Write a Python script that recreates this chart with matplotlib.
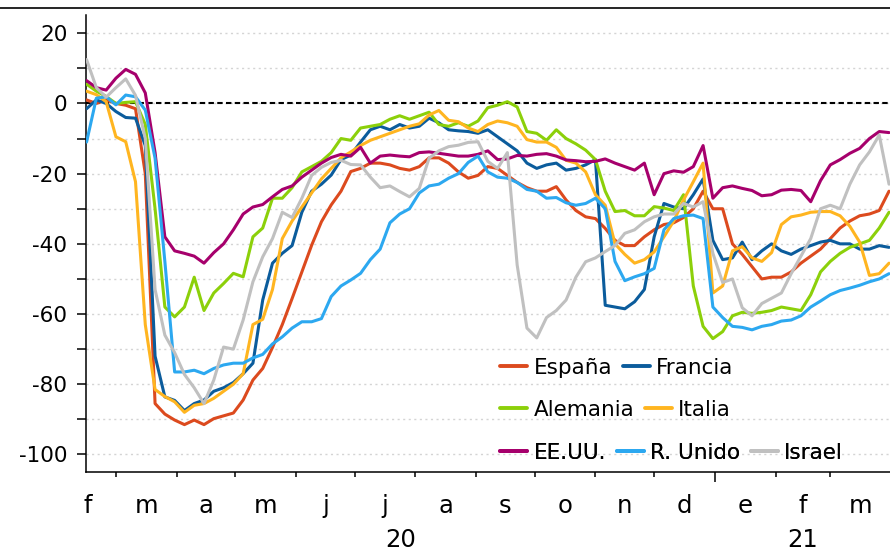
# -*- coding: utf-8 -*-
# Movilidad (comercio y ocio) vs. referencia pre-covid, media movil 7 dias
import matplotlib
matplotlib.use('Agg')
import matplotlib.pyplot as plt
import matplotlib.dates as mdates
import matplotlib.transforms as mtransforms
from matplotlib.lines import Line2D
from matplotlib.ticker import NullFormatter
import numpy as np
import pandas as pd


#DATA----------------------------------------------------------------------------------------
# one value every 5 days, 15-feb-2020 .. 31-mar-2021
dates = pd.date_range('2020-02-15', '2021-03-31', freq='5D')

espana = [1, 0, 1, 0, -0.5, -1.5, -20, -85.5, -88.5, -90.2,
          -91.5, -90.2, -91.5, -89.8, -89, -88.2, -84.5, -78.8, -75.5, -69.5,
          -63, -55.6, -48, -40.4, -33.7, -28.9, -25, -19.4, -18.5, -17,
          -17, -17.5, -18.5, -19, -18, -15.5, -15.5, -17, -19.5, -21.3,
          -20.5, -18, -18.5, -20.5, -22.5, -24, -25, -25, -23.7, -27.5,
          -30.5, -32.3, -32.8, -35.6, -39, -40.5, -40.5, -38, -36, -34.5,
          -34, -32.5, -30, -25, -30, -30, -40, -43, -46.5, -50,
          -49.5, -49.5, -48, -45.5, -43.5, -41.5, -38.5, -35.5, -33.5, -32,
          -31.5, -30.5, -25]

francia = [-1.5, 1, 0, -2.3, -4, -4.2, -12, -72, -83.6, -84.6,
           -87.5, -85.5, -84.5, -82, -81, -79.5, -77, -74, -56, -45.5,
           -42.7, -40.5, -31, -25, -23, -20.4, -16, -14.7, -11, -7.5,
           -6.5, -7.5, -6, -7, -6.5, -4.2, -5.5, -7.5, -7.8, -8,
           -8.5, -7.5, -9.5, -11.5, -13.5, -17, -18.5, -17.5, -17, -19,
           -18.5, -17.5, -16, -57.5, -58, -58.5, -56.5, -53, -38, -28.5,
           -29.5, -30, -26, -21.5, -39, -44.5, -44, -39.5, -44.5, -42,
           -40, -42, -43, -41.5, -40.5, -39.5, -39, -40, -40, -41.5,
           -41.5, -40.5, -41]

alemania = [5.5, 3.5, 2, 0, 0.3, 0.5, -6, -30, -58, -60.8,
            -58, -49.5, -59, -54, -51.3, -48.4, -49.4, -38, -35.5, -27,
            -27, -24, -19.5, -18, -16.5, -14, -10, -10.5, -7, -6.5,
            -6, -4.5, -3.5, -4.5, -3.5, -2.5, -6, -6.5, -5.5, -6.5,
            -5, -1.2, -0.5, 0.5, -1, -8, -8.5, -10.5, -7.5, -10,
            -11.5, -13.3, -16, -25, -30.8, -30.5, -32, -32, -29.4, -29.8,
            -30.5, -26, -52, -63.5, -67, -65, -60.5, -59.5, -59.8, -59.5,
            -59, -58, -58.5, -59, -54.5, -48, -45, -42.7, -41, -40,
            -39, -35.5, -31]

italia = [3.5, 2.5, 0.5, -9.5, -10.9, -22.3, -63, -81.5, -83.5, -85,
          -88, -86, -85.5, -84, -82, -80, -77, -63, -61.5, -53,
          -38.5, -33.5, -29.5, -25.5, -21.5, -18.5, -15.5, -13.8, -12, -10.5,
          -9.5, -8.5, -7.5, -6.5, -5.8, -3.3, -2, -4.8, -5.2, -7,
          -8, -6, -5, -5.5, -6.5, -10.3, -11, -11, -12.5, -16.2,
          -17, -19.5, -26, -29, -40, -43, -45.5, -44.5, -42.3, -38,
          -33.5, -27.5, -22.3, -17, -54, -52, -42, -40.8, -44, -45,
          -42.5, -34.5, -32.3, -31.8, -31, -30.8, -30.8, -32, -35, -39.5,
          -49, -48.5, -45.5]

eeuu = [6.5, 4.5, 3.8, 7.2, 9.7, 8.3, 3, -14, -38, -42,
        -42.7, -43.5, -45.5, -42.5, -40, -36, -31.5, -29.5, -28.8, -26.6,
        -24.5, -23.5, -21, -19, -17, -15.4, -14.5, -15, -12.5, -17,
        -15, -14.7, -15, -15.2, -14, -13.8, -14.2, -14.6, -15, -15,
        -14.5, -13.5, -16, -15.8, -14.8, -15, -14.5, -14.3, -15, -16.1,
        -16.3, -16.6, -16.5, -15.8, -17, -18, -19, -17, -26, -20,
        -19.2, -19.6, -18, -12, -27, -24, -23.5, -24.2, -24.8, -26.3,
        -26, -24.7, -24.5, -24.8, -28, -22, -17.5, -16, -14.2, -12.8,
        -10, -8, -8.3]

runido = [-11, 1.5, 1.9, -0.4, 2.4, 1.9, -1.9, -15.6, -45, -76.5,
          -76.5, -76, -77, -75.5, -74.5, -74, -74, -72.5, -71.5, -68.5,
          -66.5, -64, -62.2, -62.2, -61.3, -55, -52, -50.3, -48.4, -44.5,
          -41.5, -34, -31.5, -30, -25.5, -23.5, -23, -21.3, -20, -16.8,
          -15, -19.5, -21, -21.3, -22.5, -24.5, -25, -27, -26.8, -28.3,
          -29, -28.5, -27, -30, -45, -50.5, -49.4, -48.5, -47, -36,
          -32.8, -32, -31.8, -32.8, -58, -61, -63.5, -63.8, -64.5, -63.5,
          -63, -62, -61.7, -60.5, -58, -56.3, -54.5, -53.3, -52.6, -51.8,
          -50.8, -50, -48.5]

israel = [12.5, 4.5, 1.8, 4.5, 7, 2.3, -10, -53, -66, -71,
          -77.2, -81, -85.5, -78.8, -69.4, -70, -61.7, -50.8, -43.7, -38.5,
          -31, -32.5, -27, -20.5, -18.2, -16.8, -16.2, -17.4, -17.5, -21,
          -24, -23.5, -25.1, -26.6, -24.2, -15.6, -13.5, -12.3, -11.9, -11.1,
          -10.9, -16.5, -18.5, -14, -46, -64, -66.8, -61, -59, -56,
          -49.5, -45.1, -44, -42.2, -40.5, -37, -36, -33.7, -32.3, -31.5,
          -31.5, -28.5, -29.5, -28, -42.7, -51, -50, -58.2, -60.5, -57,
          -55.5, -54, -48.5, -43.5, -38.5, -30, -29, -30, -23, -17.5,
          -13.8, -9, -23]

paises = ['España', 'Francia', 'Alemania', 'Italia', 'EE.UU.', 'R. Unido', 'Israel']
series = [espana, francia, alemania, italia, eeuu, runido, israel]
colores = ['#DC4A1E', '#0B5C9C', '#8CD00A', '#FFB520', '#A6006C', '#2CA8F0', '#C0C0C0']

meses = ['f', 'm', 'a', 'm', 'j', 'j', 'a', 's', 'o', 'n', 'd', 'e', 'f', 'm']
anios = ['20', '21']
#--------------------------------------------------------------------------------------------


W, H = 890, 551
fig = plt.figure(figsize=(W / 100, H / 100), dpi=100)
ax = fig.add_axes([86 / W, 1 - 472 / H, (W - 86) / W, (472 - 15) / H])

for nombre, vals, col in zip(paises, series, colores):
    ax.plot(dates, vals, color=col, lw=2.2, label=nombre,
            solid_joinstyle='round', solid_capstyle='round', zorder=3)

x0 = pd.Timestamp('2020-02-14 17:00')
x1 = pd.Timestamp('2021-03-31 12:00')
ax.set_xlim(x0, x1)
ax.set_ylim(-105, 25.2)

# y axis: ticks every 10, labels every 20
yt = np.arange(-100, 21, 10)
ax.set_yticks(yt)
ax.set_yticklabels([str(v) if v % 20 == 0 else '' for v in yt])
ax.tick_params(axis='y', direction='out', length=6.5, width=1.1, labelsize=15.5, pad=7)
ax.yaxis.grid(True, color='#d4d4d4', linestyle=(0, (1.5, 2.5)), lw=1)
ax.set_axisbelow(True)
ax.axhline(0, color='black', lw=1.5, ls=(0, (2.6, 1.6)), zorder=2)

# x axis: month ticks, longer tick at the new year
ax.xaxis.set_major_locator(mdates.YearLocator())
ax.xaxis.set_minor_locator(mdates.MonthLocator())
ax.xaxis.set_major_formatter(NullFormatter())
ax.xaxis.set_minor_formatter(NullFormatter())
ax.tick_params(axis='x', which='major', direction='out', length=7.5, width=1.1)
ax.tick_params(axis='x', which='minor', direction='out', length=3.8, width=1.1)

trans = mtransforms.blended_transform_factory(ax.transData, ax.transAxes)
inicios = pd.date_range('2020-02-01', '2021-03-01', freq='MS')
for m, ini in zip(meses, inicios):
    centro = ini + pd.Timedelta(days=ini.days_in_month / 2)
    ax.text(centro, -0.0897, m, transform=trans, ha='center', va='baseline', fontsize=17.5)

# year labels, kept just inside the bottom edge
enero = pd.Timestamp('2021-01-01')
for a, (l, r) in zip(anios, [(x0, enero), (enero, x1)]):
    ax.text(l + (r - l) / 2, -0.1740, a, transform=trans, ha='center', va='bottom', fontsize=17.5)

for s in ['top', 'right']:
    ax.spines[s].set_visible(False)
for s in ['left', 'bottom']:
    ax.spines[s].set_linewidth(1.1)

# legend in three rows, left aligned
h, l = ax.get_legend_handles_labels()
filas = [[0, 1], [2, 3], [4, 5, 6]]
ys = [0.2276, 0.1357, 0.0416]
for fila, yy in zip(filas, ys):
    leg = ax.legend([h[i] for i in fila], [l[i] for i in fila], ncol=len(fila),
                    loc='center left', bbox_to_anchor=(0.515, yy), frameon=False,
                    fontsize=15.5, handlelength=1.25, handletextpad=0.3,
                    columnspacing=0.5, borderpad=0, borderaxespad=0)
    for ln in leg.get_lines():
        ln.set_linewidth(2.8)
    ax.add_artist(leg)

# thin rule across the top of the figure
fig.add_artist(Line2D([0, 1], [1 - 8 / H, 1 - 8 / H], transform=fig.transFigure,
                      color='black', lw=1.2))

fig.savefig('out.png', dpi=100)
